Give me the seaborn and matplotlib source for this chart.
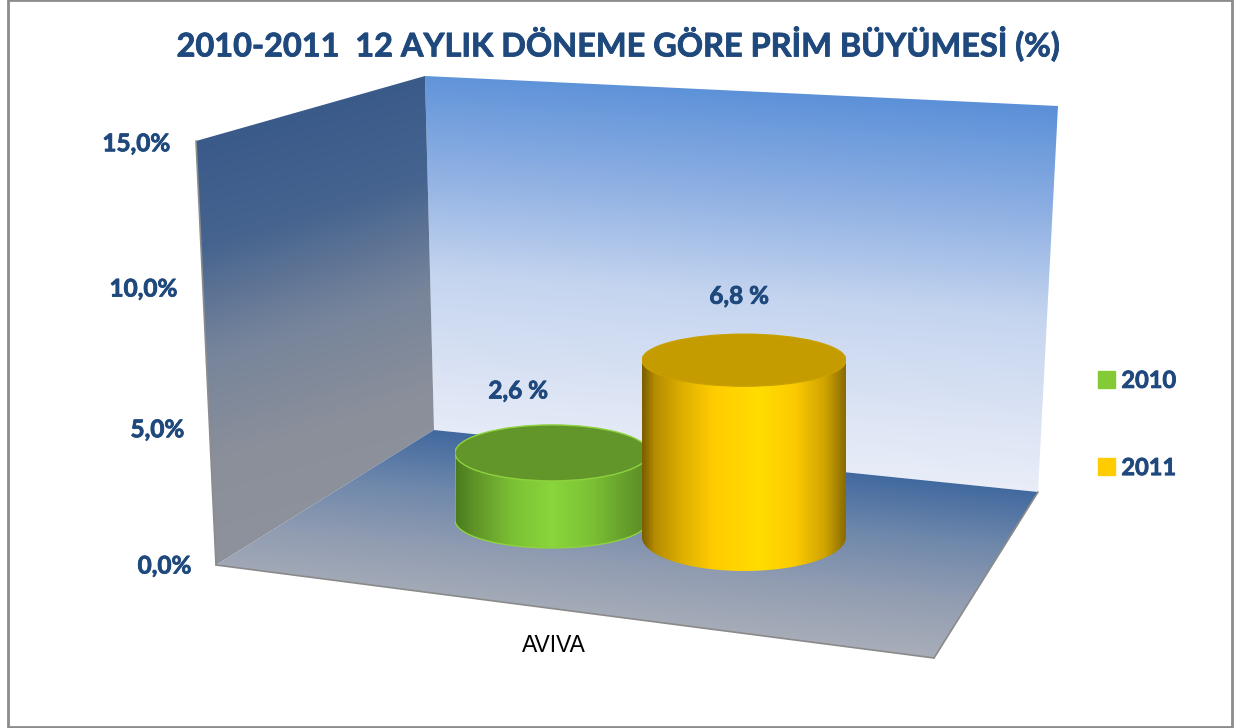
import numpy as np
import pandas as pd
import seaborn as sns
import matplotlib
matplotlib.use("Agg")
import matplotlib.pyplot as plt
import matplotlib.patheffects as pe
from matplotlib.colors import LinearSegmentedColormap
from matplotlib.patches import Ellipse, Patch, Polygon, Rectangle

W, H = 1244, 728
NAVY = "#1f497d"

# data
title = "2010-2011  12 AYLIK DÖNEME GÖRE PRİM BÜYÜMESİ (%)"
category = "AVIVA"
years = ["2010", "2011"]
growth = [2.6, 6.8]
axis_ticks = [0, 5, 10, 15]
legend_colors = ["#84c936", "#ffcc00"]

# cylinder layout in pixels, one entry per year
cyl_cx = [552, 744]
cyl_rx = [97, 102]
cyl_base = [520, 537]
cyl_ry_top = [28, 26]
cyl_ry_bottom = [28, 34]
cyl_scale = [25.8, 26.0]
label_offset = [(-34, -34), (-5, -38)]

body_colors = [
    [(0, "#4a7a1e"), (0.1, "#5f9428"), (0.3, "#7cc234"), (0.5, "#8ad63c"),
     (0.7, "#7cc234"), (0.88, "#669f2c"), (1, "#5a8a26")],
    [(0, "#7d5f00"), (0.06, "#b58c00"), (0.2, "#e0b000"), (0.35, "#ffcc00"),
     (0.58, "#ffdd00"), (0.75, "#fcca00"), (0.9, "#d0a400"), (1, "#8a6c00")],
]
top_colors = ["#63962a", "#c49c00"]
rim_colors = ["#8ed23e", "#c8a000"]

sns.set_theme(style="white")
plt.rcParams["font.family"] = ["Lato", "DejaVu Sans"]

heavy = [pe.withStroke(linewidth=0.6, foreground=NAVY)]


def fill_gradient(ax, corners, stops, slope):
    # vertical gradient tilted by slope, clipped to the wall outline
    corners = np.array(corners, dtype=float)
    x0, y0 = corners.min(axis=0)
    x1, y1 = corners.max(axis=0)
    xx, yy = np.meshgrid(np.arange(x0, x1 + 1), np.arange(y0, y1 + 1))
    t = yy - slope * xx
    edge = corners[:, 1] - slope * corners[:, 0]
    t = (t - edge.min()) / (edge.max() - edge.min())
    cmap = LinearSegmentedColormap.from_list("wall", stops)
    im = ax.imshow(t, cmap=cmap, vmin=0, vmax=1, extent=(x0, x1, y1, y0),
                   aspect="auto", interpolation="bilinear", zorder=1)
    im.set_clip_path(Polygon(corners, closed=True, transform=ax.transData))


def value_to_px(v):
    # the value axis runs along the front edge of the left wall
    return 191 - 1.4 * v, 565 - 26.8 * v - 0.09 * v ** 2


def draw_cylinder(i):
    value = growth[i]
    scale = cyl_scale[i]
    low = cyl_ry_bottom[i] / scale + 0.1
    high = cyl_ry_top[i] / scale + 0.1
    left = cyl_cx[i] - cyl_rx[i]
    bottom = cyl_base[i] + low * scale
    ax = fig.add_axes([left / W, 1 - bottom / H, 2 * cyl_rx[i] / W,
                       (low + value + high) * scale / H])
    df = pd.DataFrame({"year": [years[i]], "growth": [value]})
    sns.barplot(data=df, x="year", y="growth", width=1, color=legend_colors[i],
                saturation=1, ax=ax)
    ax.set_xlim(-0.5, 0.5)
    ax.set_ylim(-low, value + high)
    ax.axis("off")

    bar = ax.patches[0]
    bar.set_visible(False)
    top = bar.get_height()
    angles = np.linspace(np.pi, 2 * np.pi, 80)
    ry_bot = cyl_ry_bottom[i] / scale
    ry_top = cyl_ry_top[i] / scale
    outline = np.vstack([
        np.column_stack([0.5 * np.cos(angles), ry_bot * np.sin(angles)]),
        [[0.5, top], [-0.5, top]],
    ])
    cmap = LinearSegmentedColormap.from_list("body", body_colors[i])
    shade = np.linspace(0, 1, 200)[None, :]
    im = ax.imshow(shade, cmap=cmap, extent=(-0.5, 0.5, -low, value + high),
                   aspect="auto", interpolation="bilinear", zorder=2)
    im.set_clip_path(Polygon(outline, closed=True, transform=ax.transData))
    if i == 0:
        ax.add_patch(Polygon(outline, closed=True, fill=False, ec=rim_colors[i],
                             lw=1.0, zorder=3))
    ax.add_patch(Ellipse((0, top), 1, 2 * ry_top, fc=top_colors[i],
                         ec=rim_colors[i], lw=1.0, zorder=4))
    ax.set_xlim(-0.5, 0.5)
    ax.set_ylim(-low, value + high)


fig = plt.figure(figsize=(W / 100, H / 100), dpi=100, facecolor="white")
ax = fig.add_axes([0, 0, 1, 1])

# walls and floor
left_wall = [(196, 141), (425, 76), (434, 430), (216, 565)]
back_wall = [(425, 76), (1058, 106), (1038, 492), (434, 430)]
floor = [(434, 430), (1038, 492), (934, 658), (216, 565)]
fill_gradient(ax, back_wall,
              [(0, "#5a90d8"), (0.28, "#8fb0e3"), (0.55, "#c5d5ef"),
               (0.86, "#dfe6f5"), (1, "#e8edf8")], 0.07)
fill_gradient(ax, left_wall,
              ["#3a5a8a", "#46648f", "#76849b", "#8a8f9a", "#8e929c"], -0.3)
fill_gradient(ax, floor,
              ["#41699f", "#6f88ab", "#929db2", "#a8aeb9"], 0.1)
for a, b in [(floor[3], floor[2]), (floor[2], floor[1])]:
    ax.plot([a[0], b[0]], [a[1], b[1]], color="#8a8a8a", lw=1.2, zorder=2)
ax.plot([196, 216], [141, 565], color="#8c8c8c", lw=1.2, zorder=2)

ax.add_patch(Rectangle((8, 0), 1224, 727, fill=False, ec="#8c8c8c", lw=2, zorder=2))

ax.text(619, 44, title, ha="center", va="center", color=NAVY, fontsize=23.4,
        fontweight="bold", path_effects=heavy)

for v in axis_ticks:
    x, y = value_to_px(v)
    ax.text(x, y + 1, f"{v:.1f}%".replace(".", ","), ha="right", va="center",
            color=NAVY, fontsize=17.5, fontweight="bold", path_effects=heavy)

for i in range(len(years)):
    txt = f"{growth[i]:.1f} %".replace(".", ",")
    top_y = cyl_base[i] - growth[i] * cyl_scale[i] - cyl_ry_top[i]
    ax.text(cyl_cx[i] + label_offset[i][0], top_y + label_offset[i][1], txt,
            ha="center", va="center", color=NAVY, fontsize=17.5, fontweight="bold",
            path_effects=heavy)

ax.text(554, 645, category, ha="center", va="center", color="black", fontsize=16.5,
        family="Liberation Sans")

handles = [Patch(color=c) for c in legend_colors]
leg = ax.legend(handles, years, loc="center left", bbox_to_anchor=(1098 / W, 1 - 424 / H),
                bbox_transform=fig.transFigure, frameon=False, labelspacing=2.72,
                borderpad=0, borderaxespad=0, handlelength=0.74, handleheight=0.74,
                handletextpad=0.25, labelcolor=NAVY,
                prop={"weight": "bold", "size": 17, "family": "Lato"})
for t in leg.get_texts():
    t.set_path_effects(heavy)

ax.set_xlim(0, W)
ax.set_ylim(H, 0)
ax.axis("off")

for i in range(len(years)):
    draw_cylinder(i)

fig.savefig("out.png", dpi=100)
